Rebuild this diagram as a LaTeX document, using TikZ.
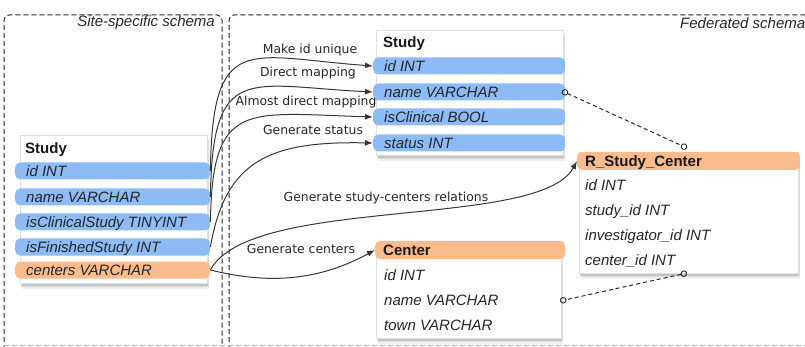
\documentclass[tikz,border=0pt]{standalone}
\usepackage{fontspec}
\setmainfont{Liberation Sans}
\newfontfamily\lblfont{DejaVu Sans}
\usetikzlibrary{shadows,arrows.meta}
\definecolor{bandblue}{RGB}{141,187,246}
\definecolor{bandorange}{RGB}{250,188,140}
\definecolor{conncol}{RGB}{55,55,55}
\begin{document}
\begin{tikzpicture}[x=1pt,y=-1pt,
  tablebox/.style={draw=black!12, fill=white, line width=0.5pt, inner sep=0pt, anchor=north west,
    drop shadow={shadow xshift=2pt, shadow yshift=-6pt, opacity=0.12},
    drop shadow={shadow xshift=1.5pt, shadow yshift=-4pt, opacity=0.18},
    drop shadow={shadow xshift=1pt, shadow yshift=-2.5pt, opacity=0.25}},
  bandb/.style={fill=bandblue, rounded corners=5pt, inner sep=0pt, minimum height=17pt, anchor=west},
  bando/.style={fill=bandorange, rounded corners=5pt, inner sep=0pt, minimum height=17pt, anchor=west},
  fieldtext/.style={font=\fontsize{15}{18}\selectfont\itshape, anchor=base west, inner sep=0pt, text=black!85},
  titletext/.style={font=\fontsize{15}{18}\selectfont\bfseries, anchor=base west, inner sep=0pt, text=black!90},
  schemalbl/.style={font=\fontsize{15}{18}\selectfont\itshape, inner sep=0pt, text=black!85},
  lbl/.style={font=\lblfont\fontsize{12.4}{14}\selectfont, inner sep=0pt, text=black!85},
  conn/.style={draw=conncol, line width=1pt, -{Latex[length=8pt,width=6pt]}},
  relline/.style={draw=black!85, line width=1pt, dash pattern=on 4pt off 3pt,
    {Circle[open,length=6.5pt,width=6.5pt,line width=0.9pt]}-{Circle[open,length=6.5pt,width=6.5pt,line width=0.9pt]}},
  schemabox/.style={draw=black!85, line width=1pt, dash pattern=on 5pt off 3pt}
]
\useasboundingbox (0,0) rectangle (805,347);
\clip (0,0) rectangle (805,347);

% schema frames
\draw[schemabox, rounded corners=5pt] (4,350) -- (4,15) -- (222,15) -- (222,350);
\draw[schemabox, rounded corners=5pt] (229,350) -- (229,15) -- (815,15);
\draw[black!30, line width=0.6pt, dash pattern=on 5pt off 3pt] (4,345) -- (805,345);
\node[schemalbl, anchor=east] (sitelbl) at (215,23) {Site-specific schema};
\node[schemalbl, anchor=west] (fedlbl) at (680,23) {Federated schema};

% left Study table
\node[tablebox, minimum width=187pt, minimum height=148pt] (lt) at (20,135) {};
\node[titletext] (ltt) at (25,153.5) {Study};
\node[bandb, minimum width=195pt] (l1) at (15,171) {};
\node[bandb, minimum width=195pt] (l2) at (15,197) {};
\node[bandb, minimum width=195pt] (l3) at (15,222) {};
\node[bandb, minimum width=195pt] (l4) at (15,247) {};
\node[bando, minimum width=195pt] (l5) at (15,270) {};
\node[fieldtext] (l1t) at (26,176.5) {id INT};
\node[fieldtext] (l2t) at (26,202.5) {name VARCHAR};
\node[fieldtext] (l3t) at (26,227.5) {isClinicalStudy TINYINT};
\node[fieldtext] (l4t) at (26,252.5) {isFinishedStudy INT};
\node[fieldtext] (l5t) at (26,275.5) {centers VARCHAR};

% federated Study table
\node[tablebox, minimum width=187pt, minimum height=125pt] (ft) at (376,30) {};
\node[titletext] (ftt) at (383,47.5) {Study};
\node[bandb, minimum width=192pt] (f1) at (373,66) {};
\node[bandb, minimum width=192pt] (f2) at (373,92) {};
\node[bandb, minimum width=192pt] (f3) at (373,117) {};
\node[bandb, minimum width=192pt] (f4) at (373,143) {};
\node[fieldtext] (f1t) at (384,71.5) {id INT};
\node[fieldtext] (f2t) at (384,97.5) {name VARCHAR};
\node[fieldtext] (f3t) at (384,122.5) {isClinical BOOL};
\node[fieldtext] (f4t) at (384,148.5) {status INT};

% R_Study_Center table
\node[tablebox, minimum width=219pt, minimum height=121pt] (rt) at (579,152) {};
\node[bando, minimum width=223pt, minimum height=18pt] (rh) at (577,161) {};
\node[titletext] (rht) at (585,166.5) {R\_Study\_Center};
\node[fieldtext] (r1t) at (585,190.5) {id INT};
\node[fieldtext] (r2t) at (585,215.5) {study\_id INT};
\node[fieldtext] (r3t) at (585,240.5) {investigator\_id INT};
\node[fieldtext] (r4t) at (585,265.5) {center\_id INT};

% Center table
\node[tablebox, minimum width=185pt, minimum height=96pt] (ct) at (376,242) {};
\node[bando, minimum width=190pt, minimum height=18pt] (ch) at (375,250) {};
\node[titletext] (cht) at (383,255.5) {Center};
\node[fieldtext] (c1t) at (384,280.5) {id INT};
\node[fieldtext] (c2t) at (384,305.5) {name VARCHAR};
\node[fieldtext] (c3t) at (384,330.5) {town VARCHAR};

% relation (dashed) lines
\coordinate (fnameend) at (562,91);
\coordinate (rtopend) at (687,148);
\coordinate (rbotend) at (687,273);
\coordinate (cnameend) at (560,301);
\draw[relline] (fnameend) -- (rtopend);
\draw[relline] (rbotend) -- (cnameend);

% mapping connectors
\draw[conn] (l1.east) .. controls +(2,-141) and +(-125,-9) .. (f1.west);
\draw[conn] (l2.east) .. controls +(2,-136) and +(-125,-6) .. (f2.west);
\draw[conn] (l3.east) .. controls +(2,-122) and +(-128,-4) .. (f3.west);
\draw[conn] (l4.east) .. controls +(15,-87) and +(-103,-2) .. (f4.west);
\draw[conn] (l5.east) .. controls +(40,-75) and +(-37,69) .. (rh.west);
\draw[conn] (l5.east) .. controls +(60,15) and +(-55,30) .. (ch.west);

% connector labels
\node[lbl] (m1) at (310,50) {Make id unique};
\node[lbl] (m2) at (308,73) {Direct mapping};
\node[lbl] (m3) at (306,102) {Almost direct mapping};
\node[lbl] (m4) at (313,130) {Generate status};
\node[lbl] (m5) at (386,198) {Generate study-centers relations};
\node[lbl] (m6) at (301,249) {Generate centers};
\end{tikzpicture}
\end{document}
